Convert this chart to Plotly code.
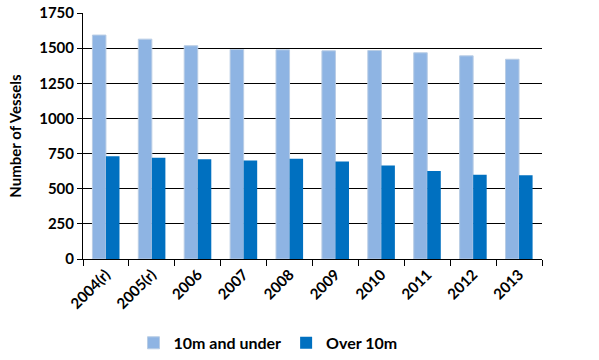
import plotly.graph_objects as go

years = ["2004(r)", "2005(r)", "2006", "2007", "2008", "2009", "2010", "2011", "2012", "2013"]
under10 = [1593, 1564, 1517, 1490, 1488, 1481, 1483, 1467, 1445, 1421]
over10 = [731, 721, 709, 700, 714, 693, 666, 626, 600, 595]

FONT = "Lato"

fig = go.Figure()
fig.add_trace(go.Bar(x=years, y=under10, name="10m and under",
                     marker=dict(color="#8EB4E3", line=dict(color="#B9CDE5", width=1))))
fig.add_trace(go.Bar(x=years, y=over10, name="Over 10m",
                     marker=dict(color="#0070C0", line=dict(color="#0070C0", width=0))))

fig.update_layout(
    width=599, height=360,
    margin=dict(l=83, r=57, t=13, b=101, autoexpand=False),
    paper_bgcolor="white", plot_bgcolor="white",
    barmode="group", bargap=0.41, bargroupgap=0,
    font=dict(family=FONT, size=15, color="black"),
    legend=dict(orientation="h", x=0.11, xanchor="left", y=-0.341, yanchor="middle",
                font=dict(family=FONT, size=16, weight="bold"), itemwidth=30,
                traceorder="normal"),
    xaxis=dict(type="category", showline=True, linecolor="black", linewidth=1,
               ticks="outside", tickson="boundaries", ticklen=6, tickcolor="black",
               tickangle=-45, tickfont=dict(family=FONT, size=15, weight="bold"),
               showgrid=False, automargin=False),
    yaxis=dict(range=[0, 1750], dtick=250, showline=True, linecolor="black", linewidth=1,
               ticks="outside", ticklen=5, tickcolor="black",
               showgrid=True, gridcolor="black", gridwidth=1,
               tickfont=dict(family=FONT, size=15, weight="bold"),
               title=dict(text="Number of Vessels", font=dict(family=FONT, size=15, weight="bold"),
                          standoff=13),
               zeroline=False, automargin=False),
)

fig.write_html("out.html", config={"displayModeBar": False},
               post_script="document.body.style.margin='0';")
